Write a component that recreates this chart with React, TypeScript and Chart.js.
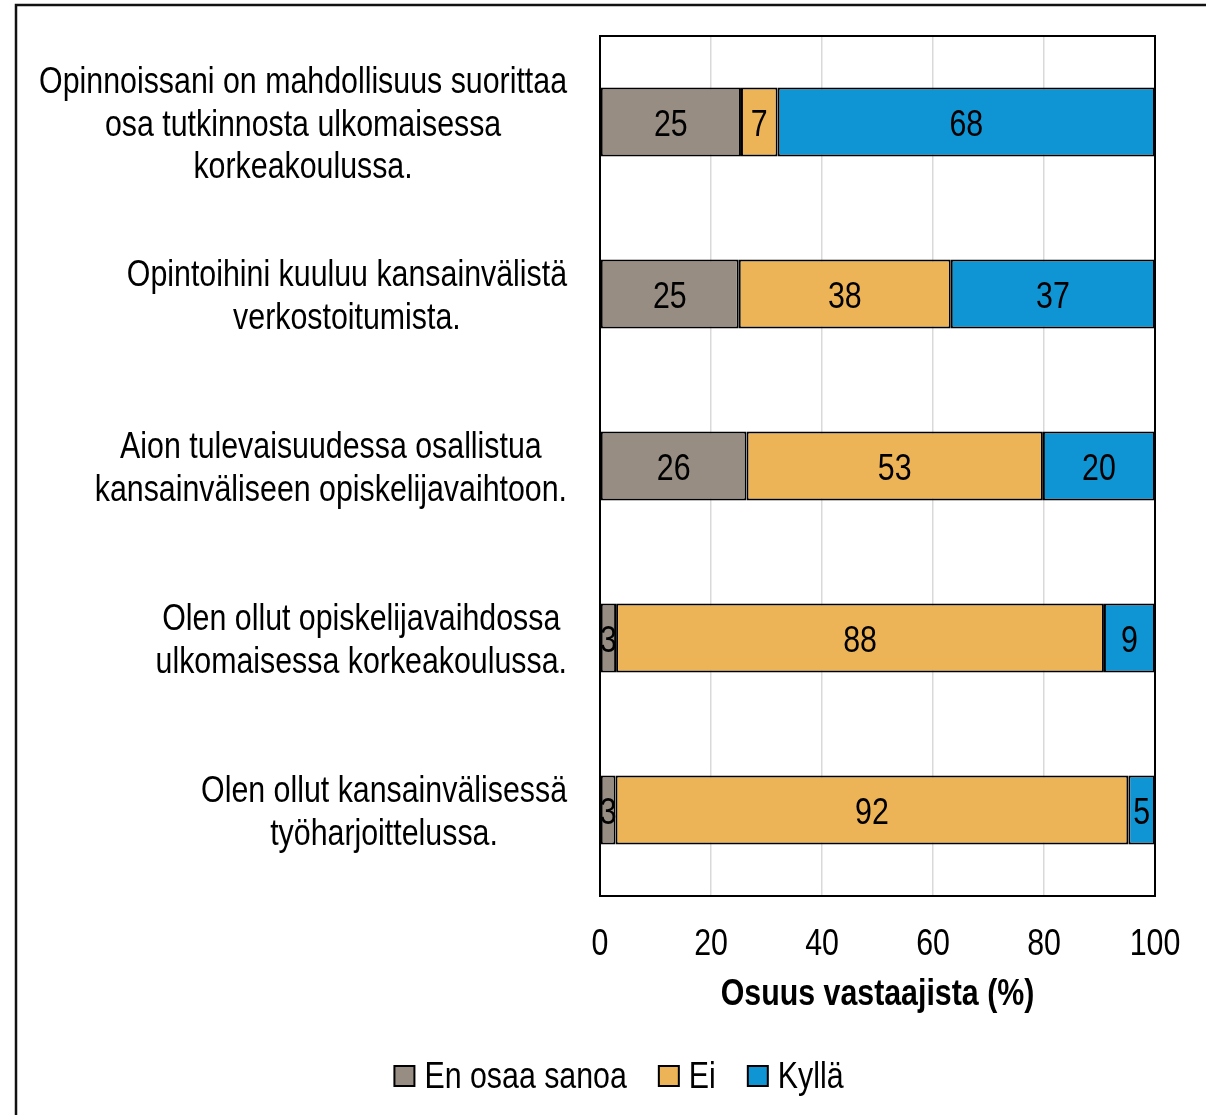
import React, { useEffect, useRef } from "react";
import { Chart, registerables } from "chart.js";
Chart.register(...registerables);

const categories: string[][] = [
  ["Opinnoissani on mahdollisuus suorittaa", "osa tutkinnosta ulkomaisessa", "korkeakoulussa."],
  ["Opintoihini kuuluu kansainvälistä", "verkostoitumista."],
  ["Aion tulevaisuudessa osallistua", "kansainväliseen opiskelijavaihtoon."],
  ["Olen ollut opiskelijavaihdossa", "ulkomaisessa korkeakoulussa."],
  ["Olen ollut kansainvälisessä", "työharjoittelussa."],
];
const seriesNames = ["En osaa sanoa", "Ei", "Kyllä"];
const enOsaaSanoa = [25.4, 25.0, 26.4, 2.9, 2.8];
const ei = [6.6, 38.2, 53.4, 87.9, 92.4];
const kylla = [68.0, 36.8, 20.2, 9.2, 4.8];
const seriesColors = ["#978D83", "#EDB357", "#0F94D4"];
const xAxisTitle = "Osuus vastaajista (%)";

const FONT = "'Liberation Sans', Arial, sans-serif";
const FS = 37;
const SX = 0.82; // horizontal condensation to mimic a narrow face

function narrowText(ctx: CanvasRenderingContext2D, text: string, x: number, y: number, align: CanvasTextAlign, bold = false) {
  ctx.save();
  ctx.font = `${bold ? "bold " : ""}${FS}px ${FONT}`;
  ctx.fillStyle = "#000";
  ctx.textAlign = align;
  ctx.textBaseline = "alphabetic";
  ctx.translate(x, y);
  ctx.scale(SX, 1);
  ctx.fillText(text, 0, 0);
  ctx.restore();
}
function narrowWidth(ctx: CanvasRenderingContext2D, text: string, bold = false) {
  ctx.save();
  ctx.font = `${bold ? "bold " : ""}${FS}px ${FONT}`;
  const w = ctx.measureText(text).width * SX;
  ctx.restore();
  return w;
}

export default function App() {
  const ref = useRef<HTMLCanvasElement | null>(null);
  useEffect(() => {
    if (!ref.current) return;
    const frame = {
      id: "frame",
      beforeDraw(chart: any) {
        const ctx = chart.ctx;
        ctx.save();
        ctx.fillStyle = "#fff";
        ctx.fillRect(0, 0, chart.width, chart.height);
        ctx.strokeStyle = "#111";
        ctx.lineWidth = 2.5;
        ctx.beginPath();
        ctx.moveTo(16, chart.height + 5);
        ctx.lineTo(16, 5);
        ctx.lineTo(chart.width + 5, 5);
        ctx.stroke();
        ctx.restore();
      },
    };
    const plotBorder = {
      id: "plotBorder",
      afterDatasetsDraw(chart: any) {
        const { ctx, chartArea: a } = chart;
        ctx.save();
        ctx.strokeStyle = "#000";
        ctx.lineWidth = 2;
        ctx.strokeRect(a.left, a.top, a.right - a.left, a.bottom - a.top);
        ctx.restore();
      },
    };
    const dataLabels = {
      id: "dataLabels",
      afterDatasetsDraw(chart: any) {
        const ctx = chart.ctx;
        chart.data.datasets.forEach((ds: any, di: number) => {
          const meta = chart.getDatasetMeta(di);
          meta.data.forEach((el: any, i: number) => {
            const v = ds.data[i];
            narrowText(ctx, String(Math.round(v)), (el.x + el.base) / 2, el.y + 14, "center");
          });
        });
      },
    };
    const texts = {
      id: "texts",
      afterDraw(chart: any) {
        const ctx = chart.ctx;
        const ys = chart.scales.y;
        const xs = chart.scales.x;
        const area = chart.chartArea;
        // category labels: block right-aligned, lines centred within block
        const right = area.left - 33;
        const lh = 42.5;
        categories.forEach((lines, i) => {
          const cy = ys.getPixelForValue(i);
          const maxW = Math.max(...lines.map((l) => narrowWidth(ctx, l)));
          const cx = right - maxW / 2;
          lines.forEach((l, j) => {
            narrowText(ctx, l, cx, cy + 13.5 + (j - (lines.length - 1) / 2) * lh, "center");
          });
        });
        // x tick labels
        xs.ticks.forEach((t: any) => {
          narrowText(ctx, String(t.value), xs.getPixelForValue(t.value), area.bottom + 59, "center");
        });
        // x title
        narrowText(ctx, xAxisTitle, (area.left + area.right) / 2, area.bottom + 109, "center", true);
        // legend
        const box = 20, gapBox = 10, gapItem = 32;
        const widths = seriesNames.map((n) => box + gapBox + narrowWidth(ctx, n));
        const total = widths.reduce((a, b) => a + b, 0) + gapItem * (seriesNames.length - 1);
        let x = 619 - total / 2;
        const ly = 1076;
        seriesNames.forEach((n, i) => {
          ctx.save();
          ctx.fillStyle = seriesColors[i];
          ctx.fillRect(x, ly - box / 2, box, box);
          ctx.strokeStyle = "#000";
          ctx.lineWidth = 2;
          ctx.strokeRect(x, ly - box / 2, box, box);
          ctx.restore();
          narrowText(ctx, n, x + box + gapBox, ly + 12, "left");
          x += widths[i] + gapItem;
        });
      },
    };
    const data = [enOsaaSanoa, ei, kylla];
    const chart = new Chart(ref.current, {
      type: "bar",
      data: {
        labels: categories.map((c) => c.join(" ")),
        datasets: seriesNames.map((name, i) => ({
          label: name,
          data: data[i],
          backgroundColor: seriesColors[i],
          borderColor: "#000",
          borderWidth: 2,
          borderSkipped: false,
          barPercentage: 0.4,
          categoryPercentage: 1,
        })),
      },
      options: {
        indexAxis: "y",
        responsive: false,
        animation: false,
        devicePixelRatio: 1,
        layout: { padding: { left: 600, right: 51, top: 36, bottom: 219 } },
        scales: {
          x: {
            stacked: true,
            min: 0,
            max: 100,
            ticks: { stepSize: 20, display: false },
            grid: { color: "#D9D9D9", lineWidth: 1.5, drawTicks: false },
            border: { display: false },
          },
          y: { stacked: true, display: false },
        },
        plugins: {
          legend: { display: false },
          tooltip: { enabled: false },
        },
      },
      plugins: [frame, plotBorder, dataLabels, texts],
    } as any);
    return () => chart.destroy();
  }, []);
  return (
    <div style={{ position: "absolute", left: 0, top: 0, width: 1206, height: 1115, overflow: "hidden" }}>
      <canvas ref={ref} width={1206} height={1115} style={{ display: "block" }} />
    </div>
  );
}
